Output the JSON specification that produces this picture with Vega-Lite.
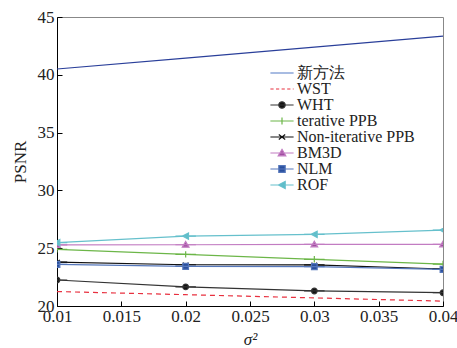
{
  "$schema": "https://vega.github.io/schema/vega-lite/v6.json",
  "width": 386,
  "height": 289,
  "autosize": "none",
  "padding": {"left": 57, "top": 17, "right": 14, "bottom": 42},
  "background": "white",
  "config": {
    "view": {"stroke": "#888888", "strokeWidth": 1},
    "font": "Liberation Serif",
    "axis": {
      "labelFont": "Liberation Serif",
      "titleFont": "Liberation Serif",
      "labelFontSize": 17,
      "titleFontSize": 17,
      "labelColor": "#222222",
      "titleColor": "#222222",
      "titleFontWeight": "normal",
      "domainColor": "#000000",
      "tickColor": "#000000",
      "tickSize": -5,
      "grid": false
    },
    "legend": {
      "labelFont": "Liberation Serif",
      "labelFontSize": 16,
      "labelColor": "#222222",
      "orient": "none",
      "legendX": 217,
      "legendY": 48,
      "padding": 0,
      "symbolSize": 64,
      "symbolStrokeWidth": 1.2,
      "labelOffset": 7,
      "rowPadding": 0
    }
  },
  "data": {
    "values": [
      {"method": "新方法", "x": 0.01, "y": 40.5},
      {"method": "新方法", "x": 0.02, "y": 41.45},
      {"method": "新方法", "x": 0.03, "y": 42.4},
      {"method": "新方法", "x": 0.04, "y": 43.35},
      {"method": "WST", "x": 0.01, "y": 21.25},
      {"method": "WST", "x": 0.02, "y": 20.98},
      {"method": "WST", "x": 0.03, "y": 20.7},
      {"method": "WST", "x": 0.04, "y": 20.42},
      {"method": "WHT", "x": 0.01, "y": 22.25},
      {"method": "WHT", "x": 0.02, "y": 21.65},
      {"method": "WHT", "x": 0.03, "y": 21.3},
      {"method": "WHT", "x": 0.04, "y": 21.15},
      {"method": "terative PPB", "x": 0.01, "y": 24.9},
      {"method": "terative PPB", "x": 0.02, "y": 24.47},
      {"method": "terative PPB", "x": 0.03, "y": 24.04},
      {"method": "terative PPB", "x": 0.04, "y": 23.63},
      {"method": "Non-iterative PPB", "x": 0.01, "y": 23.8},
      {"method": "Non-iterative PPB", "x": 0.02, "y": 23.57},
      {"method": "Non-iterative PPB", "x": 0.03, "y": 23.55},
      {"method": "Non-iterative PPB", "x": 0.04, "y": 23.2},
      {"method": "BM3D", "x": 0.01, "y": 25.28},
      {"method": "BM3D", "x": 0.02, "y": 25.3},
      {"method": "BM3D", "x": 0.03, "y": 25.33},
      {"method": "BM3D", "x": 0.04, "y": 25.33},
      {"method": "NLM", "x": 0.01, "y": 23.6},
      {"method": "NLM", "x": 0.02, "y": 23.42},
      {"method": "NLM", "x": 0.03, "y": 23.4},
      {"method": "NLM", "x": 0.04, "y": 23.17},
      {"method": "ROF", "x": 0.01, "y": 25.48},
      {"method": "ROF", "x": 0.02, "y": 26.05},
      {"method": "ROF", "x": 0.03, "y": 26.2},
      {"method": "ROF", "x": 0.04, "y": 26.57}
    ]
  },
  "encoding": {
    "x": {
      "field": "x",
      "type": "quantitative",
      "scale": {"domain": [0.01, 0.04], "nice": false, "zero": false},
      "axis": {
        "values": [0.01, 0.015, 0.02, 0.025, 0.03, 0.035, 0.04],
        "format": "~g",
        "labelPadding": 7,
        "labelFlush": false,
        "title": "σ²",
        "titleFontStyle": "italic",
        "titlePadding": 7
      }
    },
    "y": {
      "field": "y",
      "type": "quantitative",
      "scale": {"domain": [20, 45], "nice": false, "zero": false},
      "axis": {
        "values": [20, 25, 30, 35, 40, 45],
        "labelPadding": 8,
        "title": "PSNR",
        "titlePadding": 8
      }
    }
  },
  "layer": [
    {
      "transform": [{"filter": "datum.method !== 'WST'"}],
      "mark": {"type": "line", "strokeWidth": 1.2},
      "encoding": {
        "color": {
          "field": "method",
          "type": "nominal",
          "scale": {
            "domain": ["ROF", "NLM", "BM3D", "Non-iterative PPB", "terative PPB", "WHT", "WST", "新方法"],
            "range": ["#66c0cc", "#5577bb", "#c27cc2", "#111111", "#6cb648", "#333333", "#e8303f", "#2a3f9a"]
          },
          "legend": null
        }
      }
    },
    {
      "transform": [{"filter": "datum.method === 'WST'"}],
      "mark": {"type": "line", "strokeWidth": 1.2, "strokeDash": [5, 4]},
      "encoding": {
        "color": {"field": "method", "type": "nominal", "legend": null}
      }
    },
    {
      "transform": [{"filter": "datum.method !== 'WST' && datum.method !== '新方法'"}],
      "mark": {"type": "point", "filled": true, "size": 50, "strokeWidth": 1.2, "opacity": 1, "clip": true},
      "encoding": {
        "fill": {
          "field": "method",
          "type": "nominal",
          "scale": {
            "domain": ["新方法", "WST", "WHT", "terative PPB", "Non-iterative PPB", "BM3D", "NLM", "ROF"],
            "range": ["#6d8fcf", "#e8303f", "#111111", "#6cb648", "#111111", "#a04ea0", "#2a4f9e", "#5bbcc8"]
          },
          "legend": {"title": null}
        },
        "stroke": {
          "field": "method",
          "type": "nominal",
          "scale": {
            "domain": ["新方法", "WST", "WHT", "terative PPB", "Non-iterative PPB", "BM3D", "NLM", "ROF"],
            "range": ["#6d8fcf", "#e8303f", "#333333", "#6cb648", "#111111", "#c27cc2", "#5577bb", "#66c0cc"]
          },
          "legend": {"title": null}
        },
        "shape": {
          "field": "method",
          "type": "nominal",
          "scale": {
            "domain": ["新方法", "WST", "WHT", "terative PPB", "Non-iterative PPB", "BM3D", "NLM", "ROF"],
            "range": ["M-2.9,0H2.9", "M-2.9,0H-2.1M-1.5,0H-0.7M-0.1,0H0.7M1.3,0H2.1M2.7,0H2.9", "M-2.9,0H2.9M0.8,0A0.8,0.8,0,1,1,-0.8,0A0.8,0.8,0,1,1,0.8,0Z", "M-2.9,0H2.9M0,-0.9V0.9", "M-2.9,0H2.9M-0.8,-0.6L0.8,0.6M-0.8,0.6L0.8,-0.6", "M-2.9,0H2.9M0,-0.9L0.95,0.7L-0.95,0.7Z", "M-2.9,0H2.9M-0.8,-0.85H0.8V0.85H-0.8Z", "M-2.9,0H2.9M-0.9,0L0.8,-0.9L0.8,0.9Z"]
          },
          "legend": {"title": null}
        }
      }
    }
  ]
}
